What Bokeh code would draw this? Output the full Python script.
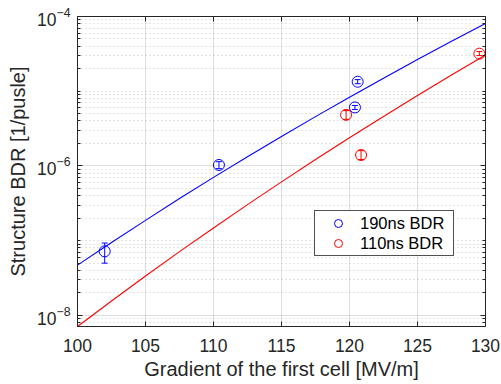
from bokeh.plotting import figure
from bokeh.models import (LinearAxis, FixedTicker, Whisker, ColumnDataSource,
                          Legend, LegendItem, TeeHead, CustomJSTickFormatter)
from bokeh.embed import file_html
from bokeh.resources import INLINE

# ---- data ----
blue_x = [102.0, 110.4, 120.6, 120.4]
blue_y = [7.2e-8, 1.03e-6, 1.34e-5, 6.07e-6]
blue_lo = [5.0e-8, 0.92e-6, 1.26e-5, 5.7e-6]
blue_hi = [9.3e-8, 1.14e-6, 1.43e-5, 6.45e-6]

red_x = [119.75, 120.85, 129.55]
red_y = [4.83e-6, 1.40e-6, 3.18e-5]
red_lo = [4.2e-6, 1.22e-6, 3.0e-5]
red_hi = [5.5e-6, 1.6e-6, 3.4e-5]

fit_x = [100, 102.5, 105, 107.5, 110, 112.5, 115, 117.5, 120, 122.5, 125, 127.5, 130]
blue_fit = [4.7e-8, 9.46e-8, 1.87e-7, 3.66e-7, 7.03e-7, 1.33e-6, 2.48e-6,
            4.57e-6, 8.3e-6, 1.49e-5, 2.65e-5, 4.65e-5, 8.05e-5]
red_fit = [7.1e-9, 1.56e-8, 3.37e-8, 7.13e-8, 1.48e-7, 3.04e-7, 6.12e-7,
           1.22e-6, 2.38e-6, 4.6e-6, 8.75e-6, 1.65e-5, 3.05e-5]

x_ticks = [100, 105, 110, 115, 120, 125, 130]
y_ticks = [1e-8, 1e-6, 1e-4]
y_minor = [m * 10.0 ** k for k in range(-9, -4) for m in range(1, 10)
           if m * 10.0 ** k not in y_ticks]

labels = ["190ns BDR", "110ns BDR"]
x_label = "Gradient of the first cell [MV/m]"
y_label = "Structure BDR [1/pusle]"

FONT = "Liberation Sans"
AX = "#262626"
BLUE = "#0000ff"
RED = "#ff0000"

p = figure(width=501, height=384, x_range=(100, 130), y_range=(7.1e-9, 1e-4),
           y_axis_type="log", output_backend="svg", toolbar_location=None,
           min_border_left=77, min_border_right=16, min_border_top=16, min_border_bottom=58)
p.outline_line_color = None
p.background_fill_color = "white"
p.border_fill_color = "white"

xt = FixedTicker(ticks=x_ticks, minor_ticks=[])
yt = FixedTicker(ticks=y_ticks, minor_ticks=y_minor)

p.xaxis.ticker = xt
p.yaxis.ticker = yt
p.xgrid.ticker = xt
p.ygrid.ticker = yt

def style_axis(ax, labels_on=True):
    ax.axis_line_color = AX
    ax.axis_line_width = 1
    ax.major_tick_line_color = AX
    ax.minor_tick_line_color = AX
    ax.major_tick_in = 5
    ax.major_tick_out = 0
    ax.minor_tick_in = 3
    ax.minor_tick_out = 0
    ax.major_label_text_font = FONT
    ax.major_label_text_color = AX
    ax.axis_label_text_font = FONT
    ax.axis_label_text_color = AX
    ax.axis_label_text_font_style = "normal"
    if labels_on:
        ax.major_label_text_font_size = "17.5px"
        ax.axis_label_text_font_size = "20px"
    else:
        ax.formatter = CustomJSTickFormatter(code="return ''")
        ax.major_label_text_font_size = "1px"
        ax.major_label_standoff = 0

for ax in p.xaxis:
    style_axis(ax)
    ax.axis_label = x_label
    ax.major_label_standoff = 12
    ax.axis_label_standoff = 3
for ax in p.yaxis:
    style_axis(ax)
    ax.axis_label = y_label
    ax.major_label_standoff = 7
    ax.axis_label_standoff = 5

top = LinearAxis(ticker=xt)
style_axis(top, labels_on=False)
p.add_layout(top, "above")
right = LinearAxis(ticker=yt)
style_axis(right, labels_on=False)
p.add_layout(right, "right")

# grids
p.xgrid.grid_line_color = AX
p.xgrid.grid_line_alpha = 0.15
p.ygrid.grid_line_color = AX
p.ygrid.grid_line_alpha = 0.15
p.ygrid.minor_grid_line_color = AX
p.ygrid.minor_grid_line_alpha = 0.25
p.ygrid.minor_grid_line_dash = "1 3"

# fit lines
p.line(fit_x, blue_fit, line_color=BLUE, line_width=1.1)
p.line(fit_x, red_fit, line_color=RED, line_width=1.1)

# error bars + markers
def series(xs, ys, lo, hi, color):
    src = ColumnDataSource(dict(x=xs, y=ys, lo=lo, hi=hi))
    w = Whisker(base="x", lower="lo", upper="hi", source=src, line_color=color, line_width=1,
                upper_head=TeeHead(size=6, line_color=color, line_width=1),
                lower_head=TeeHead(size=6, line_color=color, line_width=1))
    p.add_layout(w)
    r = p.scatter("x", "y", source=src, size=11, marker="circle", fill_color=None,
                  line_color=color, line_width=1)
    return r

rb = series(blue_x, blue_y, blue_lo, blue_hi, BLUE)
rr = series(red_x, red_y, red_lo, red_hi, RED)

legend = Legend(items=[LegendItem(label=labels[0], renderers=[rb]),
                       LegendItem(label=labels[1], renderers=[rr])],
                location=(237, 70))
legend.label_text_font = FONT
legend.label_text_font_size = "16.5px"
legend.label_text_color = "black"
legend.label_height = 17
legend.glyph_height = 20
legend.glyph_width = 42
legend.label_standoff = 1
legend.label_width = 91
legend.spacing = 0
legend.padding = 2
legend.margin = 0
legend.border_line_color = AX
legend.border_line_alpha = 0.8
legend.border_line_width = 1
legend.background_fill_color = "white"
legend.background_fill_alpha = 1
p.add_layout(legend)

open("out.html", "w").write(file_html(p, INLINE))
